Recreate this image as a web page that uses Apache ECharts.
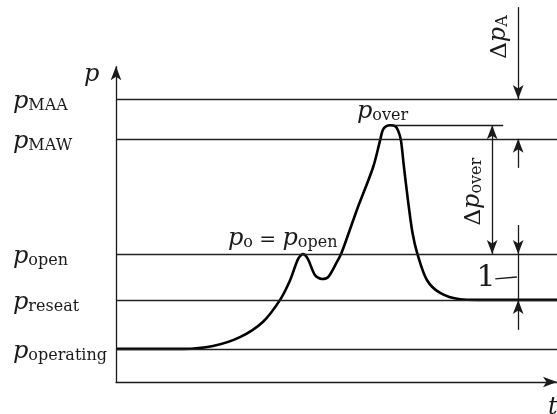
<!DOCTYPE html>
<html>
<head>
<meta charset="utf-8">
<script src="https://cdn.jsdelivr.net/npm/echarts@6/dist/echarts.min.js"></script>
<style>
  html, body { margin: 0; padding: 0; background: #fff; }
  #chart { width: 557px; height: 414px; }
</style>
</head>
<body>
<div id="chart"></div>
<script>
// pressure levels (y) and their subscripts
var levelNames = ['MAA', 'MAW', 'open', 'reseat', 'operating'];
var levelValues = [89.6, 77, 40.5, 26, 10.5];
var overValue = 81.3;

// pressure curve over time
var curveT = [0, 15.2, 22.0, 28.1, 33.3, 37.2, 39.5, 41.3, 42.4, 43.5, 45.1, 46.7, 48.1, 50.1, 51.2,
  54.6, 58.3, 59.9, 60.5, 61.3, 62.2, 63.3, 64.0, 64.6, 65.3, 66.2, 67.2, 68.3, 70.5, 73.5, 78.0, 82.0, 100];
var curveP = [10.5, 10.5, 11.4, 14.2, 19.0, 26.0, 32.3, 39.0, 40.5, 39.0, 33.9, 32.6, 33.2, 38.0, 41.1,
  54.4, 68.0, 76.6, 79.8, 81.0, 81.3, 81.0, 79.5, 76.6, 68.0, 57.6, 47.5, 40.8, 32.3, 28.2, 26.2, 26.0, 26.0];

var ink = '#1a1a1a';
var font = 'DejaVu Serif';
var chart = echarts.init(document.getElementById('chart'));

var lvl = {};
levelNames.forEach(function (n, i) { lvl[n] = levelValues[i]; });

var dimA = 91.2, dimOver = 85.3;
var mid = (lvl.open + lvl.reseat) / 2;

function seg(a, b, s0, s1) {
  return [{coord: a, symbol: s0 || 'none'}, {coord: b, symbol: s1 || 'none'}];
}

var annot = [
  seg([0, 0], [0, 100], 'none', 'arrow'),
  seg([dimA, 118.7], [dimA, lvl.MAA], 'none', 'arrow'),
  seg([dimA, lvl.MAW - 9.2], [dimA, lvl.MAW], 'none', 'arrow'),
  seg([62.8, overValue], [87.8, overValue]),
  seg([dimOver, overValue], [dimOver, lvl.open], 'arrow', 'arrow'),
  seg([dimA, lvl.open + 9.2], [dimA, lvl.open], 'none', 'arrow'),
  seg([dimA, lvl.open], [dimA, lvl.reseat]),
  seg([dimA, lvl.reseat - 9.5], [dimA, lvl.reseat], 'none', 'arrow'),
  seg([dimA - 5.2, mid - 0.6], [dimA - 0.3, mid])
];

chart.setOption({
  animation: false,
  grid: {left: 116, right: 0, top: 3, bottom: 32},
  xAxis: {
    type: 'value', min: 0, max: 100,
    axisLine: {show: true, symbol: ['none', 'arrow'], symbolSize: [8, 14], lineStyle: {color: ink, width: 1.4}},
    axisTick: {show: false}, axisLabel: {show: false}, splitLine: {show: false}
  },
  yAxis: {
    type: 'value', min: 0, max: 120,
    axisLine: {show: false}, axisTick: {show: false}, axisLabel: {show: false}, splitLine: {show: false}
  },
  series: [
    {
      type: 'line', silent: true, data: [],
      markLine: {
        silent: true, symbol: 'none', label: {show: false},
        lineStyle: {color: '#222', width: 1.4, type: 'solid'},
        data: levelValues.map(function (v) { return {yAxis: v}; })
      }
    },
    {
      type: 'line', silent: true, data: [],
      markLine: {
        silent: true, symbolSize: [8, 14], label: {show: false},
        lineStyle: {color: ink, width: 1.3, type: 'solid'},
        data: annot
      }
    },
    {
      type: 'line', silent: true, symbol: 'none', smooth: 0.3,
      lineStyle: {color: '#000', width: 2.6},
      data: curveT.map(function (t, i) { return [t, curveP[i]]; })
    }
  ]
});

var rich = {
  p: {fontFamily: font, fontStyle: 'italic', fontSize: 24, lineHeight: 28, verticalAlign: 'bottom', fill: ink},
  s: {fontFamily: font, fontSize: 16, lineHeight: 18, verticalAlign: 'bottom', fill: ink},
  d: {fontFamily: font, fontSize: 23, lineHeight: 28, verticalAlign: 'bottom', fill: ink},
  e: {fontFamily: font, fontSize: 20, lineHeight: 28, verticalAlign: 'bottom', fill: ink}
};

function px(x, y) { return chart.convertToPixel({gridIndex: 0}, [x, y]); }

function label(text, x, y, opts) {
  opts = opts || {};
  return {
    type: 'text', x: x, y: y, rotation: opts.rotation || 0, silent: true,
    style: {text: text, rich: rich, align: opts.align || 'left', verticalAlign: 'middle', fill: ink,
      font: opts.font}
  };
}

var g = [];
levelNames.forEach(function (n, i) {
  var y = px(0, levelValues[i])[1];
  g.push(label('{p|p}{s|' + n + '}', 13, y + 1));
});
var axisTop = px(0, 100);
g.push(label('{p|p}', axisTop[0] - 32, axisTop[1] + 7));
var o = px(0, overValue);
g.push(label('{p|p}{s|over}', 357, o[1] - 15));
var op = px(0, lvl.open);
g.push(label('{p|p}{s|o}{e| = }{p|p}{s|open}', 228, op[1] - 17));
var a = px(dimA, 0);
g.push(label('{d|Δ}{p|p}{s|A}', a[0] - 21, 37, {align: 'center', rotation: Math.PI / 2}));
var dov = px(dimOver, (overValue + lvl.open) / 2);
g.push(label('{d|Δ}{p|p}{s|over}', dov[0] - 21, dov[1] + 2, {align: 'center', rotation: Math.PI / 2}));
var one = px(dimA - 7.3, mid);
g.push(label('1', one[0], one[1] + 1, {align: 'center', font: '30px "DejaVu Serif"'}));
var xEnd = px(100, 0);
g.push(label('{p|t}', xEnd[0] - 9, xEnd[1] + 24));

chart.setOption({graphic: g});
</script>
</body>
</html>
